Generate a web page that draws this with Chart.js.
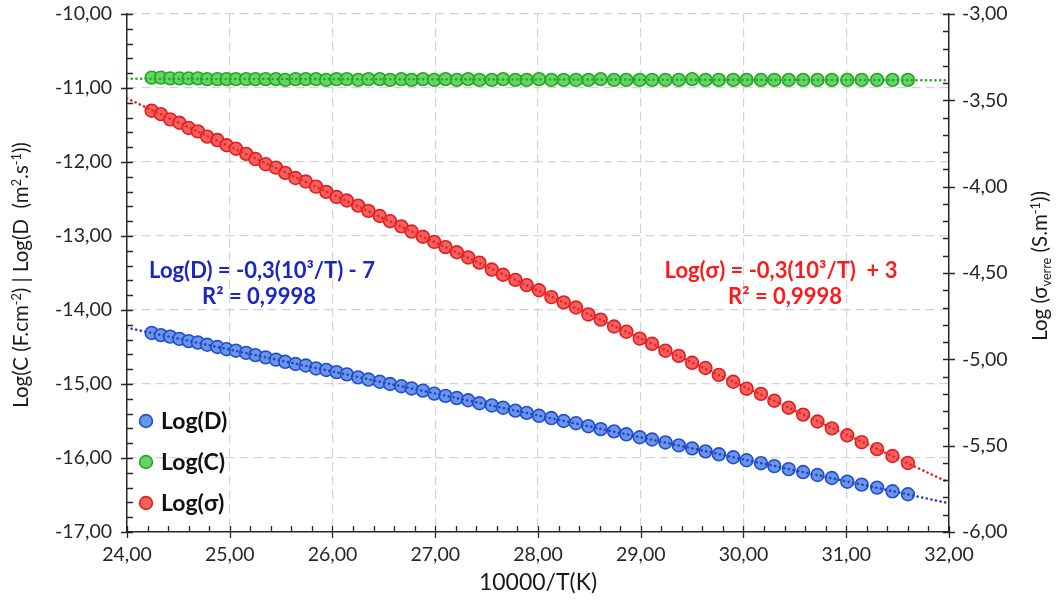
<!DOCTYPE html>
<html><head><meta charset="utf-8">
<script src="https://cdn.jsdelivr.net/npm/chart.js@4.4.1/dist/chart.umd.min.js"></script>
<style>html,body{margin:0;padding:0;background:#fff;}#wrap{width:1060px;height:614px;position:relative;}</style>
</head><body><div id="wrap"><canvas id="c" width="1060" height="614"></canvas></div>
<script>
// ---- data ----
const invT = [24.24,24.33,24.42,24.51,24.60,24.69,24.78,24.88,24.97,25.06,
  25.16,25.25,25.35,25.45,25.54,25.64,25.74,25.84,25.94,26.04,
  26.14,26.25,26.35,26.46,26.56,26.67,26.77,26.88,26.99,27.10,
  27.21,27.32,27.43,27.55,27.66,27.78,27.89,28.01,28.13,28.25,
  28.37,28.49,28.61,28.74,28.86,28.99,29.11,29.24,29.37,29.50,
  29.63,29.76,29.90,30.03,30.17,30.30,30.44,30.58,30.72,30.86,
  31.01,31.15,31.30,31.45,31.60];
const logD = [-14.31,-14.34,-14.36,-14.39,-14.42,-14.44,-14.47,-14.50,-14.53,-14.55,
  -14.58,-14.61,-14.64,-14.67,-14.70,-14.73,-14.75,-14.79,-14.81,-14.84,
  -14.87,-14.91,-14.94,-14.97,-15.00,-15.03,-15.06,-15.09,-15.13,-15.16,
  -15.19,-15.22,-15.26,-15.29,-15.32,-15.36,-15.39,-15.43,-15.46,-15.50,
  -15.53,-15.57,-15.61,-15.64,-15.68,-15.72,-15.75,-15.79,-15.83,-15.87,
  -15.91,-15.95,-15.99,-16.03,-16.07,-16.11,-16.15,-16.19,-16.23,-16.27,
  -16.32,-16.36,-16.40,-16.45,-16.49];
const logC = [-10.86,-10.86,-10.87,-10.87,-10.87,-10.87,-10.88,-10.88,-10.88,-10.88,
  -10.88,-10.88,-10.88,-10.88,-10.89,-10.88,-10.88,-10.88,-10.89,-10.88,
  -10.88,-10.89,-10.88,-10.88,-10.89,-10.88,-10.89,-10.88,-10.89,-10.88,
  -10.89,-10.88,-10.89,-10.89,-10.88,-10.89,-10.89,-10.88,-10.89,-10.89,
  -10.89,-10.89,-10.88,-10.89,-10.89,-10.89,-10.89,-10.89,-10.89,-10.88,
  -10.89,-10.89,-10.89,-10.89,-10.89,-10.89,-10.89,-10.89,-10.89,-10.89,
  -10.89,-10.89,-10.89,-10.89,-10.89];
const logSigma = [-3.56,-3.58,-3.61,-3.63,-3.66,-3.68,-3.71,-3.73,-3.76,-3.78,
  -3.81,-3.84,-3.87,-3.89,-3.92,-3.95,-3.97,-4.00,-4.03,-4.06,
  -4.08,-4.11,-4.14,-4.17,-4.20,-4.23,-4.26,-4.29,-4.32,-4.35,
  -4.38,-4.41,-4.44,-4.48,-4.51,-4.54,-4.57,-4.60,-4.64,-4.67,
  -4.70,-4.74,-4.77,-4.81,-4.84,-4.88,-4.91,-4.95,-4.98,-5.02,
  -5.05,-5.09,-5.13,-5.17,-5.20,-5.24,-5.28,-5.32,-5.36,-5.40,
  -5.44,-5.48,-5.52,-5.56,-5.60];
const seriesNames = ['Log(D)', 'Log(C)', 'Log(σ)'];
const xRange = [24, 32];
const leftRange = [-17, -10];
const rightRange = [-6, -3];
const eqD = ['Log(D) = -0,3(10³/T) - 7', 'R² = 0,9998'];
const eqS = ['Log(σ) = -0,3(10³/T)  + 3', 'R² = 0,9998'];
const xTitle = '10000/T(K)';

// ---- styles ----
const FONT = 'Lato, "Open Sans", sans-serif';
const COL = {
  D: {fill:'#6b95e6', border:'#1f4fd0', line:'#2244c4'},
  C: {fill:'#66d466', border:'#23a823', line:'#25a825'},
  S: {fill:'#f26060', border:'#e21e1e', line:'#ee2222'}
};

function fit(xs, ys){
  const n = xs.length; let sx=0,sy=0,sxx=0,sxy=0;
  for(let i=0;i<n;i++){sx+=xs[i];sy+=ys[i];sxx+=xs[i]*xs[i];sxy+=xs[i]*ys[i];}
  const b=(n*sxy-sx*sy)/(n*sxx-sx*sx); const a=(sy-b*sx)/n; return {a,b};
}
function trend(xs, ys){ const f=fit(xs,ys); return xRange.map(x=>({x, y:f.a+f.b*x})); }
const pts = ys => invT.map((x,i)=>({x, y:ys[i]}));
const fmt = v => v.toFixed(2).replace('.', ',');

function scatterDs(label, ys, c, axis){
  return {type:'scatter', label, data:pts(ys), yAxisID:axis, order:2,
    pointRadius:6.4, pointBorderWidth:1.6, pointBackgroundColor:c.fill, pointBorderColor:c.border,
    backgroundColor:c.fill, borderColor:c.border, showLine:false};
}
function trendDs(ys, c, axis){
  return {type:'scatter', label:'_trend', data:trend(invT, ys), yAxisID:axis, order:0,
    showLine:true, pointRadius:0, borderColor:c.line, borderWidth:2.6, borderDash:[0.1,4.6],
    borderCapStyle:'round', fill:false};
}

// rich text helper (sub/superscripts)
function drawRich(ctx, segs, cx, cy, rot, size, weight, color){
  ctx.save(); ctx.translate(cx, cy); ctx.rotate(rot);
  ctx.textAlign='left'; ctx.textBaseline='alphabetic'; ctx.fillStyle=color;
  let total=0;
  segs.forEach(s=>{ const fs = s.k ? size*0.62 : size; s.font = `${weight} ${fs}px ${FONT}`; ctx.font=s.font; s.w=ctx.measureText(s.t).width; total+=s.w; });
  let x=-total/2; const base = size*0.36;
  segs.forEach(s=>{ ctx.font=s.font; let dy=base; if(s.k==='sup') dy=base-size*0.38; if(s.k==='sub') dy=base+size*0.2; ctx.fillText(s.t, x, dy); x+=s.w; });
  ctx.restore();
}

const decor = {
  id:'decor',
  afterDatasetsDraw(chart){
    const ctx=chart.ctx, a=chart.chartArea, sx=chart.scales.x, sl=chart.scales.y, sr=chart.scales.y2;
    ctx.save(); ctx.strokeStyle='#262626'; ctx.lineWidth=1.3;
    ctx.beginPath();
    for(let v=xRange[0]; v<=xRange[1]+1e-9; v+=0.2){
      const p=Math.round(sx.getPixelForValue(v))+0.5, major=Math.abs(v-Math.round(v))<1e-6;
      ctx.moveTo(p, a.bottom-6); ctx.lineTo(p, a.bottom+(major?6:0));
    }
    for(let v=leftRange[0]; v<=leftRange[1]+1e-9; v+=0.2){
      const p=Math.round(sl.getPixelForValue(v))+0.5, major=Math.abs(v-Math.round(v))<1e-6;
      ctx.moveTo(a.left-(major?6:0), p); ctx.lineTo(a.left+6, p);
    }
    for(let v=rightRange[0]; v<=rightRange[1]+1e-9; v+=0.1){
      const p=Math.round(sr.getPixelForValue(v))+0.5, major=Math.abs(v*2-Math.round(v*2))<1e-6;
      ctx.moveTo(a.right-6, p); ctx.lineTo(a.right+(major?6:0), p);
    }
    ctx.stroke(); ctx.restore();
  },
  afterDraw(chart){
    const ctx=chart.ctx, a=chart.chartArea;
    // legend
    const items=[[seriesNames[0],COL.D],[seriesNames[1],COL.C],[seriesNames[2],COL.S]];
    items.forEach((it,i)=>{
      const y=421+i*41;
      ctx.save(); ctx.beginPath(); ctx.arc(146, y, 6.4, 0, Math.PI*2);
      ctx.fillStyle=it[1].fill; ctx.fill(); ctx.lineWidth=1.6; ctx.strokeStyle=it[1].border; ctx.stroke();
      ctx.font=`bold 23px ${FONT}`; ctx.fillStyle='#111'; ctx.textAlign='left'; ctx.textBaseline='middle';
      ctx.fillText(it[0], 161, y+1); ctx.restore();
    });
    // equations
    ctx.save(); ctx.font=`bold 22px ${FONT}`; ctx.textAlign='center'; ctx.textBaseline='middle';
    ctx.fillStyle='#1b27c4'; ctx.fillText(eqD[0], 262, 271); ctx.fillText(eqD[1], 259, 297);
    ctx.fillStyle='#ff1a1a'; ctx.fillText(eqS[0], 781, 271); ctx.fillText(eqS[1], 785, 297);
    ctx.restore();
    // axis titles
    drawRich(ctx, [{t:'Log(C (F.cm'},{t:'-2',k:'sup'},{t:') | Log(D  (m'},{t:'2',k:'sup'},{t:'.s'},{t:'-1',k:'sup'},{t:'))'}],
      21, 275, -Math.PI/2, 20.5, 'normal', '#1a1a1a');
    drawRich(ctx, [{t:'Log (σ'},{t:'verre',k:'sub'},{t:' (S.m'},{t:'-1',k:'sup'},{t:'))'}],
      1040, 266, -Math.PI/2, 20.5, 'normal', '#1a1a1a');
    ctx.save(); ctx.font=`normal 23px ${FONT}`; ctx.fillStyle='#1a1a1a'; ctx.textAlign='center'; ctx.textBaseline='middle';
    ctx.fillText(xTitle, 538, 583); ctx.restore();
  }
};

const fixed = (w,h) => function(scale){ if(w!=null) scale.width=w; if(h!=null) scale.height=h;
  scale.paddingTop=0; scale.paddingBottom=0; scale.paddingLeft=0; scale.paddingRight=0; };

const tickFont = {family:FONT, size:19.5};
new Chart(document.getElementById('c'), {
  type:'scatter',
  data:{datasets:[
    trendDs(logD, COL.D, 'y'), trendDs(logC, COL.C, 'y'), trendDs(logSigma, COL.S, 'y2'),
    scatterDs(seriesNames[0], logD, COL.D, 'y'),
    scatterDs(seriesNames[1], logC, COL.C, 'y'),
    scatterDs(seriesNames[2], logSigma, COL.S, 'y2')
  ]},
  options:{
    responsive:false, animation:false, devicePixelRatio:1,
    layout:{padding:{top:14, left:0, right:0, bottom:0}},
    plugins:{legend:{display:false}, tooltip:{enabled:false}},
    scales:{
      x:{type:'linear', min:xRange[0], max:xRange[1], position:'bottom',
        ticks:{stepSize:1, callback:fmt, font:tickFont, color:'#262626', padding:11, maxRotation:0},
        grid:{color:c=>(c.tick && (c.tick.value===xRange[0]||c.tick.value===xRange[1]))?'rgba(0,0,0,0)':'#d4d4d4', lineWidth:1.2, drawTicks:false},
        border:{display:true, color:'#262626', width:1.5, dash:[9,5]},
        afterFit:fixed(null, 82)},
      y:{type:'linear', min:leftRange[0], max:leftRange[1], position:'left',
        ticks:{stepSize:1, callback:fmt, font:tickFont, color:'#262626', padding:15},
        grid:{color:c=>(c.tick && c.tick.value===leftRange[0])?'rgba(0,0,0,0)':'#d4d4d4', lineWidth:1.2, drawTicks:false},
        border:{display:true, color:'#262626', width:1.5, dash:[9,5]},
        afterFit:fixed(127, null)},
      y2:{type:'linear', min:rightRange[0], max:rightRange[1], position:'right',
        ticks:{stepSize:0.5, callback:fmt, font:tickFont, color:'#262626', padding:13},
        grid:{display:false, drawTicks:false},
        border:{display:true, color:'#262626', width:1.5},
        afterFit:fixed(111, null)}
    }
  },
  plugins:[decor]
});
</script></body></html>
